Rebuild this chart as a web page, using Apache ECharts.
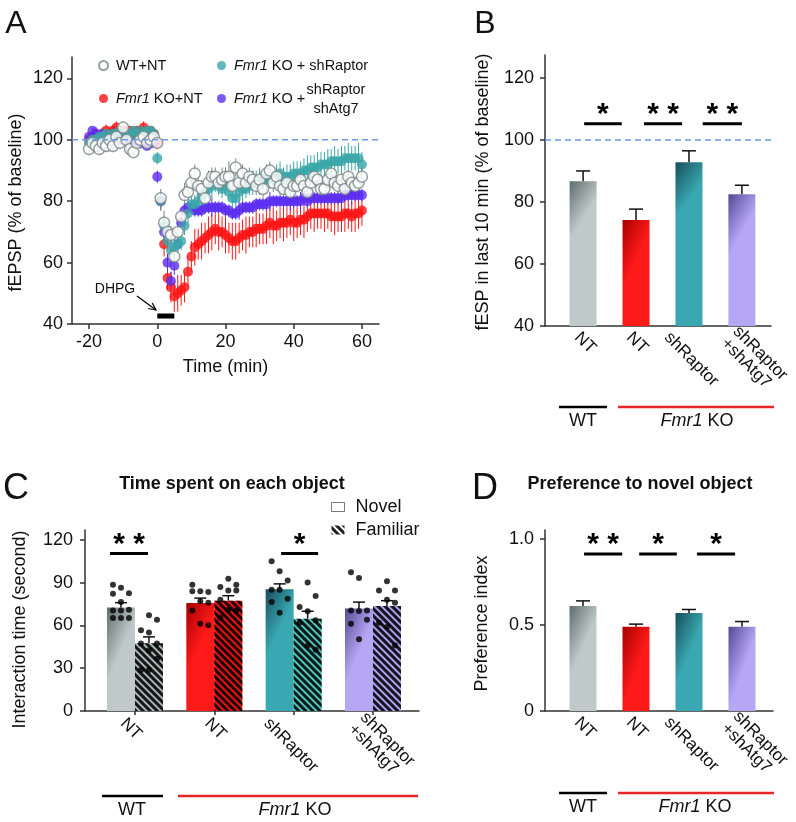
<!DOCTYPE html>
<html><head><meta charset="utf-8">
<script src="https://cdn.jsdelivr.net/npm/echarts@6/dist/echarts.min.js"></script>
<style>html,body{margin:0;padding:0;background:#fff}#c{width:796px;height:822px}</style>
</head><body><div id="c"></div>
<script>
// ---------------- DATA ----------------
// Panel A: fEPSP time course (% of baseline), time in minutes
const timeMin = [-20,-19,-18,-17,-16,-15,-14,-13,-12,-11,
 -10,-9,-8,-7,-6,-5,-4,-3,-2,-1,
 0,1,2,3,4,5,6,7,8,9,
 10,11,12,13,14,15,16,17,18,19,
 20,21,22,23,24,25,26,27,28,29,
 30,31,32,33,34,35,36,37,38,39,
 40,41,42,43,44,45,46,47,48,49,
 50,51,52,53,54,55,56,57,58,59,
 60];
const wtNT = [97,99,98,97,99,98,100,98,101,99,
 104,100,97,96,99,100,101,99,100,101,
 99,81,73,70,69,62,70,75,82,83,
 86,89,85,84,81,86,88,88,86,87,
 88,88,85,91,86,89,86,88,87,85,
 87,84,89,90,86,88,85,84,86,83,
 85,85,87,85,83,86,88,87,84,84,
 87,89,86,85,87,84,88,86,85,86,
 88];
const wtNTErr = [2,1,2,2,1,2,3,2,1,2,
 2,4,2,1,2,3,2,1,2,2,
 2,3,4,3,3,3,3,3,4,3,
 3,3,3,3,3,4,3,3,3,4,
 3,5,3,3,3,3,3,3,3,3,
 4,3,3,3,3,3,3,3,3,3,
 3,2,3,3,2,3,3,2,3,3,
 3,3,2,3,3,3,2,3,3,2,
 3];
const koNT = [100,101,102,101,102,103,102,103,104,103,
 102,103,103,102,103,103,104,103,103,102,
 99,80,66,55,52,49,50,51,52,57,
 62,65,66,67,68,69,70,71,70,70,
 69,68,67,67,68,69,69,70,70,71,
 71,71,72,73,72,72,73,73,73,74,
 73,73,74,74,75,76,76,76,76,76,
 76,75,75,75,75,76,76,75,76,76,
 77];
const koNTErr = [1,2,1,2,1,2,1,1,2,1,
 2,1,1,2,1,1,2,1,1,1,
 2,3,4,4,5,5,6,5,5,5,
 5,6,5,6,5,6,6,5,6,5,
 6,5,6,6,5,5,6,5,5,6,
 5,5,6,5,6,5,5,6,5,5,
 6,5,5,6,5,5,6,5,5,6,
 5,5,6,5,5,6,5,5,6,5,
 5];
const koRaptor = [99,100,100,101,101,102,101,102,102,103,
 102,101,102,103,102,103,102,103,103,102,
 94,80,72,67,64,65,66,67,72,76,
 79,79,80,82,83,84,85,86,85,84,
 85,83,81,81,83,84,84,85,86,87,
 86,87,87,88,87,88,89,88,88,88,
 89,89,89,90,90,91,91,91,92,92,
 92,93,93,93,93,94,94,94,94,94,
 92];
const koRaptorErr = [1,1,1,1,2,1,1,1,1,1,
 1,1,2,1,1,1,1,1,1,1,
 2,3,3,3,4,4,3,3,3,3,
 3,3,3,4,3,3,4,3,3,3,
 3,3,4,3,3,4,3,3,4,3,
 4,3,4,4,3,4,4,3,4,4,
 4,4,4,4,5,4,4,5,4,4,
 5,4,5,4,5,4,5,4,4,5,
 4];
const koRaptorAtg7 = [101,103,102,101,102,101,100,101,102,101,
 100,101,100,99,100,99,99,98,99,99,
 88,80,70,60,54,59,66,73,77,78,
 78,77,77,77,78,78,78,78,78,78,
 77,77,76,76,77,78,78,78,78,79,
 79,79,79,80,80,80,80,80,80,80,
 80,80,80,81,80,81,81,81,81,81,
 81,81,81,81,81,82,82,82,82,82,
 82];
const koRaptorAtg7Err = [1,1,2,1,1,1,1,1,2,1,
 1,1,1,1,2,1,1,1,1,1,
 2,2,3,3,3,3,2,2,2,2,
 2,2,2,2,2,2,3,2,2,2,
 2,2,2,2,3,2,2,2,2,2,
 2,2,2,3,2,2,2,2,2,3,
 2,2,3,2,2,2,2,2,2,2,
 2,2,2,2,2,2,2,3,2,2,
 2];
const dhpgWindow = [0, 5];
const baselineLevel = 100;
const ticksA_x = [-20, 0, 20, 40, 60];
const ticksA_y = [40, 60, 80, 100, 120];
const ticksB_y = [40, 60, 80, 100, 120];
const ticksC_y = [0, 30, 60, 90, 120];
const ticksD_y = [0, 0.5, 1.0];

// Panels B, C, D categories
const groupLabels = ['NT', 'NT', 'shRaptor', 'shRaptor\n+shAtg7'];

// Panel B
const fepspLast10 = [86.7, 74.2, 92.8, 82.5];
const fepspLast10Err = [3.3, 3.5, 3.7, 2.9];
const sigB = [[0.02, 0.73, 105.2], [1.15, 1.87, 105.2], [2.26, 3.0, 105.2]];
const sigBText = ['*', '* *', '* *'];

// Panel C
const novelMean = [72.7, 75.7, 85.5, 72.0];
const novelErr = [3.3, 3.5, 3.7, 4.4];
const familiarMean = [47.5, 77.4, 64.8, 73.6];
const familiarErr = [4.5, 3.5, 5.2, 3.8];
const novelPoints = [
 [88.6, 86.5, 82.7, 82.3, 76.4, 71.1, 70.6, 70.6, 65.3, 65.3, 65.3],
 [88.6, 84.0, 83.5, 84.0, 77.0, 76.0, 70.6, 61.3, 60.1],
 [105.0, 98.0, 91.6, 85.0, 85.0, 78.8, 76.4, 69.0],
 [97.4, 93.4, 70.6, 70.6, 70.1, 64.0, 61.3, 50.3]];
const familiarPoints = [
 [67.1, 64.1, 56.6, 55.0, 47.3, 47.3, 42.7, 36.6, 28.7, 28.7],
 [92.8, 88.6, 87.0, 84.6, 84.6, 78.0, 71.0, 70.6, 65.5],
 [90.2, 80.7, 73.0, 70.0, 63.6, 62.0, 46.0, 43.0],
 [91.0, 84.5, 84.5, 78.0, 76.0, 62.0, 59.0, 46.0]];
const sigC = [[-0.315, 0.164, 110.5], [1.842, 2.308, 110.5]];
const sigCText = ['* *', '*'];

// Panel D
const prefIndex = [0.61, 0.49, 0.57, 0.49];
const prefErr = [0.03, 0.015, 0.02, 0.03];
const sigD = [[0.02, 0.74, 0.913], [1.06, 1.77, 0.913], [2.15, 2.87, 0.913]];
const sigDText = ['* *', '*', '*'];

// ---------------- STYLE / LAYOUT ----------------
const F = '"Liberation Sans", Arial, Helvetica, sans-serif';
const INK = '#111';
const AX = '#333';
const gridA = {left: 72, top: 57, width: 307, height: 267};
const gridB = {left: 545, top: 55, width: 226, height: 271};
const gridC = {left: 85, top: 530, width: 334, height: 181};
const gridD = {left: 545, top: 530, width: 228, height: 181};
const xB = [-0.72, 3.55], xC = [-0.63, 3.58], xD = [-0.717, 3.585];
const pxB = gridB.width / (xB[1] - xB[0]);
const pxC = gridC.width / (xC[1] - xC[0]);
const pxD = gridD.width / (xD[1] - xD[0]);
const nudgeBD = [-6, -7, -22, -12];
const nudgeC = [-12, -7, -27, -16];
const cOff = 14 / pxC;
const dotJitterPx = [-8, 0, 8];

const barColors = [['#5f6d6d', '#bfc9c9'], ['#a80000', '#ff1a1a'], ['#174f5c', '#3aa8b2'], ['#544993', '#b6a7f5']];
const famColors = ['#a9b4b4', '#e81212', '#4fc3bb', '#ab9fee'];
function grad(c) {
  return new echarts.graphic.LinearGradient(0, 0, 1, 0.12, [{offset: 0, color: c[0]}, {offset: 1, color: c[1]}]);
}
const stripe = {symbol: 'rect', symbolSize: 1, color: 'rgba(0,0,0,0.88)', dashArrayX: [1, 0], dashArrayY: [3, 2], rotation: Math.PI / 4};

const lineStyleAx = {color: AX, width: 1.5};
function yAxisCfg(gi, min, max, ticks, name, nameGap, pad, fmt, margin) {
  return {
    gridIndex: gi, type: 'value', min, max,
    axisLine: {show: true, onZero: false, lineStyle: lineStyleAx},
    axisTick: {show: true, length: 5, customValues: ticks, lineStyle: lineStyleAx},
    axisLabel: {customValues: ticks, fontSize: 18, color: INK, fontFamily: F, margin, formatter: fmt},
    splitLine: {show: false},
    name, nameLocation: 'middle', nameGap,
    nameTextStyle: {fontSize: 18, color: INK, fontFamily: F, padding: pad}
  };
}
function catXAxis(gi, range, nudge, pxPer, margin, ticks) {
  const pos = nudge.map((n, i) => i + n / pxPer);
  return {
    gridIndex: gi, type: 'value', min: range[0], max: range[1],
    axisLine: {show: true, onZero: false, lineStyle: lineStyleAx},
    axisTick: ticks ? {show: true, length: 4, customValues: [0, 1, 2, 3], lineStyle: lineStyleAx} : {show: false},
    axisLabel: {customValues: pos, rotate: -45, margin, fontSize: 17, lineHeight: 17, color: INK, fontFamily: F,
      formatter: v => groupLabels[Math.round(v)]},
    splitLine: {show: false}
  };
}

function errLineSeries(name, vals, errs, color) {
  return {
    type: 'custom', name, xAxisIndex: 0, yAxisIndex: 0, silent: true,
    encode: {x: 0, y: 1},
    data: timeMin.map((t, i) => [t, vals[i], errs[i]]),
    renderItem(params, api) {
      const x = api.value(0), y = api.value(1), e = api.value(2);
      const p1 = api.coord([x, y - e]), p2 = api.coord([x, y + e]);
      return {type: 'line', shape: {x1: p1[0], y1: p1[1], x2: p2[0], y2: p2[1]}, style: {stroke: color, lineWidth: 1}};
    }
  };
}
function pointSeries(name, vals, style, size) {
  return {type: 'scatter', name, xAxisIndex: 0, yAxisIndex: 0, symbolSize: size, itemStyle: style,
    data: timeMin.map((t, i) => [t, vals[i]])};
}
function barErrSeries(xi, yi, items, cap) {
  return {
    type: 'custom', xAxisIndex: xi, yAxisIndex: yi, silent: true, encode: {x: 0, y: 1},
    data: items,
    renderItem(params, api) {
      const x = api.value(0), y = api.value(1), e = api.value(2);
      const p1 = api.coord([x, y]), p2 = api.coord([x, y + e]);
      return {type: 'group', children: [
        {type: 'line', shape: {x1: p1[0], y1: p1[1], x2: p2[0], y2: p2[1]}, style: {stroke: INK, lineWidth: 1.5}},
        {type: 'line', shape: {x1: p2[0] - cap, y1: p2[1], x2: p2[0] + cap, y2: p2[1]}, style: {stroke: INK, lineWidth: 1.5}}
      ]};
    }
  };
}
function sigSeries(xi, yi, defs, texts) {
  return {
    type: 'custom', xAxisIndex: xi, yAxisIndex: yi, silent: true, encode: {x: 0, y: 2},
    data: defs,
    renderItem(params, api) {
      const a = api.coord([api.value(0), api.value(2)]), b = api.coord([api.value(1), api.value(2)]);
      return {type: 'group', children: [
        {type: 'line', shape: {x1: a[0], y1: a[1], x2: b[0], y2: a[1]}, style: {stroke: '#000', lineWidth: 3}},
        {type: 'text', x: (a[0] + b[0]) / 2, y: a[1] - 9,
          style: {text: texts[params.dataIndex], font: 'bold 30px ' + F, fill: '#000', align: 'center', verticalAlign: 'middle'}}
      ]};
    }
  };
}
function refLine(xi, yi, x0, x1, v) {
  return {type: 'line', xAxisIndex: xi, yAxisIndex: yi, silent: true, symbol: 'none',
    lineStyle: {color: '#6a9be0', width: 1.5, type: [6, 4]}, data: [[x0, v], [x1, v]]};
}

const italic = s => s.replace('Fmr1', '{i|Fmr1}');
const legendText = {fontSize: 14.5, color: INK, fontFamily: F, padding: [0, 0, 0, 3],
  rich: {i: {fontStyle: 'italic', fontSize: 14.5, color: INK, fontFamily: F}}};

const txt = (x, y, text, font, extra) => Object.assign({type: 'text', x, y, silent: true,
  style: Object.assign({text, font, fill: INK, align: 'center', verticalAlign: 'middle'}, extra || {})});
const hline = (x1, x2, y, color) => ({type: 'line', silent: true, shape: {x1, y1: y, x2, y2: y}, style: {stroke: color, lineWidth: 2.5}});
const richKO = {i: {fontStyle: 'italic', fontSize: 18, fontFamily: F, fill: INK}};

// DHPG arrow
const arrowFrom = [137, 296], arrowTo = [156, 310];
const ang = Math.atan2(arrowTo[1] - arrowFrom[1], arrowTo[0] - arrowFrom[0]);
const wing = (s) => [arrowTo[0] - 8 * Math.cos(ang + s), arrowTo[1] - 8 * Math.sin(ang + s)];

const option = {
  animation: false,
  backgroundColor: '#fff',
  grid: [gridA, gridB, gridC, gridD],
  xAxis: [
    {gridIndex: 0, type: 'value', min: -25, max: 65,
      axisLine: {show: true, onZero: false, lineStyle: lineStyleAx},
      axisTick: {show: true, length: 5, customValues: ticksA_x, lineStyle: lineStyleAx},
      axisLabel: {customValues: ticksA_x, fontSize: 18, color: INK, fontFamily: F, margin: 9},
      splitLine: {show: false},
      name: 'Time (min)', nameLocation: 'middle', nameGap: 34,
      nameTextStyle: {fontSize: 18, color: INK, fontFamily: F}},
    catXAxis(1, xB, nudgeBD, pxB, 9, false),
    catXAxis(2, xC, nudgeC, pxC, 10, true),
    catXAxis(3, xD, nudgeBD, pxD, 9, false)
  ],
  yAxis: [
    yAxisCfg(0, 40, 127, ticksA_y, 'fEPSP (% of baseline)', 47, [0, 24, 0, 0], null, 9),
    yAxisCfg(1, 40, 127.4, ticksB_y, 'fESP in last 10 min (% of baseline)', 53, [0, 3, 0, 0], null, 11),
    yAxisCfg(2, 0, 127, ticksC_y, 'Interaction time (second)', 56, [0, 18, 0, 0], null, 12),
    yAxisCfg(3, 0, 1.052, ticksD_y, 'Preference index', 54, [0, 6, 0, 0], v => v === 0 ? '0' : v.toFixed(1), 11)
  ],
  legend: [
    {data: ['WT+NT', 'Fmr1 KO+NT'], orient: 'vertical', left: 98, top: 58, padding: 0, itemWidth: 9, itemHeight: 9,
      itemGap: 18, icon: 'circle', selectedMode: false, textStyle: legendText, formatter: italic},
    {data: ['Fmr1 KO + shRaptor', 'Fmr1 KO + shRaptor shAtg7'], orient: 'vertical', left: 217, top: 58, padding: 0,
      itemWidth: 9, itemHeight: 9, itemGap: 18, icon: 'circle', selectedMode: false, textStyle: legendText,
      formatter: n => n === 'Fmr1 KO + shRaptor' ? italic(n) : '{i|Fmr1} KO +'},
    {data: [
        {name: 'Novel', itemStyle: {color: '#fff', borderColor: '#777', borderWidth: 1, decal: 'none'}},
        {name: 'Familiar', itemStyle: {color: '#fff', borderColor: '#fff', borderWidth: 0, decal: stripe}}],
      orient: 'vertical', left: 331, top: 498, padding: 0, itemWidth: 13, itemHeight: 9, itemGap: 5, icon: 'rect',
      selectedMode: false, textStyle: {fontSize: 18, color: INK, fontFamily: F, padding: [0, 0, 0, 6]}}
  ],
  series: [
    refLine(0, 0, -25, 65, baselineLevel),
    errLineSeries('koNTErr', koNT, koNTErr, '#ff1414'),
    pointSeries('Fmr1 KO+NT', koNT, {color: '#ff1414'}, 10),
    errLineSeries('koRaptorAtg7Err', koRaptorAtg7, koRaptorAtg7Err, '#5b2df0'),
    pointSeries('Fmr1 KO + shRaptor shAtg7', koRaptorAtg7, {color: '#5b2df0'}, 10),
    errLineSeries('koRaptorErr', koRaptor, koRaptorErr, '#3aa6a9'),
    pointSeries('Fmr1 KO + shRaptor', koRaptor, {color: '#3aa6a9'}, 10),
    errLineSeries('wtNTErr', wtNT, wtNTErr, '#7b8787'),
    pointSeries('WT+NT', wtNT, {color: '#fff', borderColor: '#7b8787', borderWidth: 1.5}, 11),
    {type: 'custom', xAxisIndex: 0, yAxisIndex: 0, silent: true, encode: {x: 0, y: 1},
      data: [[dhpgWindow[0], 42.6, dhpgWindow[1]]],
      renderItem(params, api) {
        const a = api.coord([api.value(0), api.value(1)]), b = api.coord([api.value(2), api.value(1)]);
        return {type: 'rect', shape: {x: a[0], y: a[1] - 2.5, width: b[0] - a[0], height: 5}, style: {fill: '#000'}};
      }},

    // Panel B
    refLine(1, 1, -0.72, 3.55, baselineLevel),
    {type: 'bar', name: 'fESP', xAxisIndex: 1, yAxisIndex: 1, barWidth: 27, silent: true,
      data: fepspLast10.map((v, i) => ({value: [i, v], itemStyle: {color: grad(barColors[i])}}))},
    barErrSeries(1, 1, fepspLast10.map((v, i) => [i, v, fepspLast10Err[i]]), 7),
    sigSeries(1, 1, sigB, sigBText),

    // Panel C
    {type: 'bar', name: 'Novel', xAxisIndex: 2, yAxisIndex: 2, barWidth: 28, barGap: '-100%', silent: true,
      itemStyle: {color: '#fff'},
      data: novelMean.map((v, i) => ({value: [i - cOff, v], itemStyle: {color: grad(barColors[i])}}))},
    {type: 'bar', name: 'Familiar', xAxisIndex: 2, yAxisIndex: 2, barWidth: 28, barGap: '-100%', silent: true,
      itemStyle: {color: '#fff', decal: stripe},
      data: familiarMean.map((v, i) => ({value: [i + cOff, v], itemStyle: {color: famColors[i], decal: stripe}}))},
    barErrSeries(2, 2, novelMean.map((v, i) => [i - cOff, v, novelErr[i]])
      .concat(familiarMean.map((v, i) => [i + cOff, v, familiarErr[i]])), 6),
    {type: 'scatter', xAxisIndex: 2, yAxisIndex: 2, symbolSize: 6, silent: true, itemStyle: {color: '#000'},
      data: [].concat(
        ...novelPoints.map((pts, i) => pts.map((v, k) => [i - cOff + dotJitterPx[k % 3] / pxC, v])),
        ...familiarPoints.map((pts, i) => pts.map((v, k) => [i + cOff + dotJitterPx[(k + 1) % 3] / pxC, v])))},
    sigSeries(2, 2, sigC, sigCText),

    // Panel D
    {type: 'bar', name: 'pref', xAxisIndex: 3, yAxisIndex: 3, barWidth: 27, silent: true,
      data: prefIndex.map((v, i) => ({value: [i, v], itemStyle: {color: grad(barColors[i])}}))},
    barErrSeries(3, 3, prefIndex.map((v, i) => [i, v, prefErr[i]]), 7),
    sigSeries(3, 3, sigD, sigDText)
  ],
  graphic: [
    txt(16, 24, 'A', '32px ' + F),
    txt(485, 24, 'B', '32px ' + F),
    txt(16, 489, 'C', '36px ' + F),
    txt(485, 489, 'D', '36px ' + F),
    txt(232, 484, 'Time spent on each object', 'bold 18px ' + F),
    txt(640, 484, 'Preference to novel object', 'bold 18px ' + F),
    txt(336, 99, 'shRaptor\nshAtg7', '14.5px ' + F, {lineHeight: 19}),
    txt(115, 289, 'DHPG', '14px ' + F),
    {type: 'polyline', silent: true, shape: {points: [arrowFrom, arrowTo]}, style: {stroke: '#000', lineWidth: 1.2, fill: null}},
    {type: 'polyline', silent: true, shape: {points: [wing(0.45), arrowTo, wing(-0.45)]}, style: {stroke: '#000', lineWidth: 1.2, fill: null}},
    // group underlines
    hline(559, 607, 407, '#000'), hline(618, 774, 407, '#e8262a'),
    txt(583, 421, 'WT', '18px ' + F),
    txt(697, 421, '{i|Fmr1} KO', '18px ' + F, {rich: richKO}),
    hline(102, 163, 796, '#000'), hline(178, 418, 796, '#e8262a'),
    txt(132, 810, 'WT', '18px ' + F),
    txt(295, 810, '{i|Fmr1} KO', '18px ' + F, {rich: richKO}),
    hline(559, 607, 793, '#000'), hline(618, 774, 793, '#e8262a'),
    txt(583, 807, 'WT', '18px ' + F),
    txt(695, 807, '{i|Fmr1} KO', '18px ' + F, {rich: richKO})
  ]
};
const chart = echarts.init(document.getElementById('c'), null, {renderer: 'canvas'});
chart.setOption(option);
</script>
</body></html>
